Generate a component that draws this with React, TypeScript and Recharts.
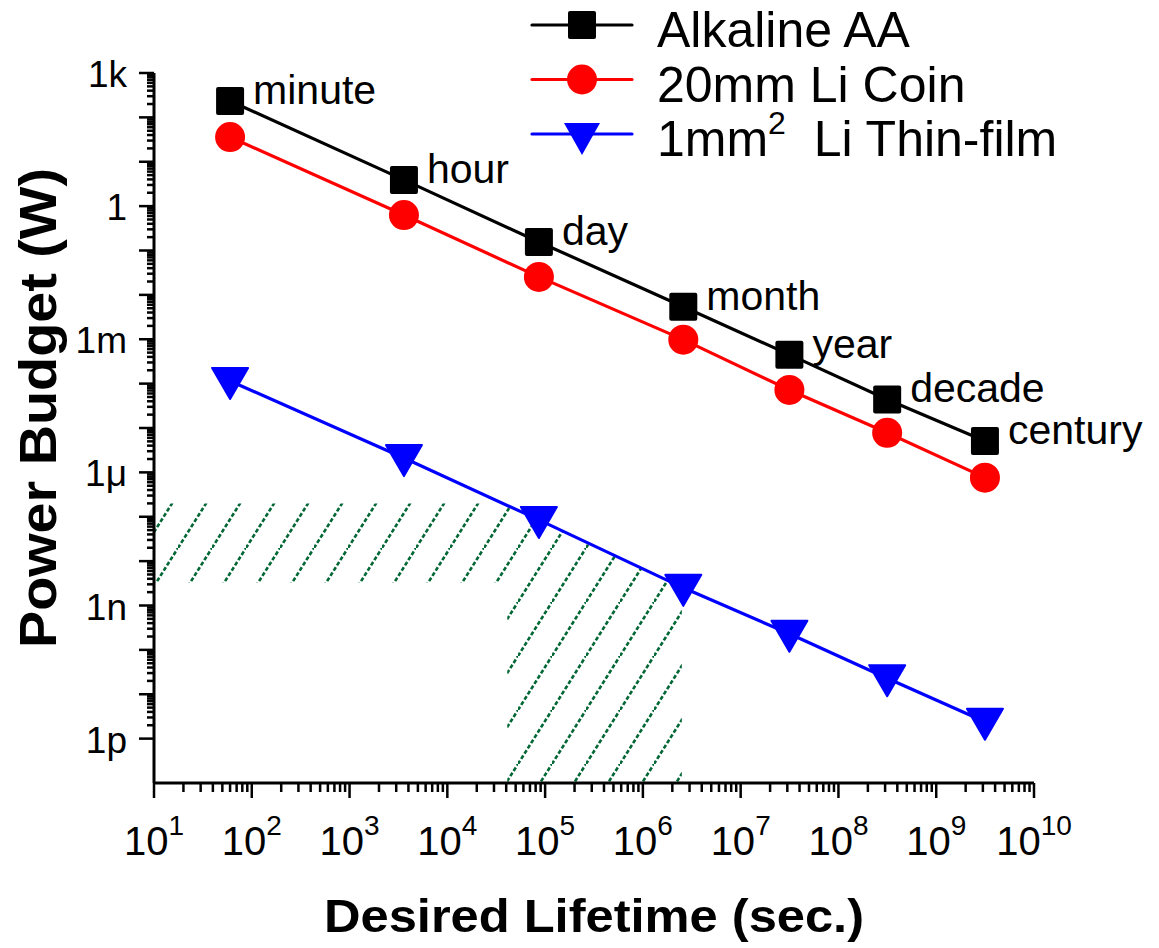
import { ComposedChart, Line, Area, XAxis, YAxis, Legend, LabelList } from 'recharts';

// lifetimes in seconds and their names
const lifetimes = [60, 3600, 86400, 2.59e6, 3.15e7, 3.15e8, 3.15e9];
const lifetimeNames = ['minute', 'hour', 'day', 'month', 'year', 'decade', 'century'];

// power budget (W) for each battery
const alkalineAA = [234, 3.9, 0.156, 5.4e-3, 4.5e-4, 4.4e-5, 5.1e-6];
const liCoin = [36, 0.63, 0.0254, 9.8e-4, 7.2e-5, 7.8e-6, 7.6e-7];
const liThinFilm = [1.15e-4, 2.1e-6, 8.5e-8, 2.5e-9, 2.3e-10, 2.3e-11, 2.4e-12];

// hatched region outline
const hatchX = [10, 4.1e4, 4.1e4, 8.64e4, 2.5e6];
const hatchLow = [3.2e-9, 3.2e-9, 1e-13, 1e-13, 1e-13];
const hatchHigh = [2.0e-7, 2.0e-7, 1.9e-7, 8.5e-8, 2.6e-9];

const yLabels: Record<number, string> = { 3: '1k', 0: '1', [-3]: '1m', [-6]: '1μ', [-9]: '1n', [-12]: '1p' };

const xTicks: number[] = [];
for (let e = 1; e <= 10; e++) {
  xTicks.push(10 ** e);
  if (e < 10) for (let m = 2; m <= 9; m++) xTicks.push(m * 10 ** e);
}
const yTicks: number[] = [];
for (let e = -12; e <= 3; e++) {
  yTicks.push(10 ** e);
  if (e < 3) for (let m = 2; m <= 9; m++) yTicks.push(m * 10 ** e);
}

const data = lifetimes.map((x, i) => ({
  x,
  name: lifetimeNames[i],
  aa: alkalineAA[i],
  coin: liCoin[i],
  thin: liThinFilm[i],
}));
const hatchData = hatchX.map((x, i) => ({ x, range: [hatchLow[i], hatchHigh[i]] }));

const FONT = 'Liberation Sans, Arial, Helvetica, sans-serif';

const isDecade = (v: number) => {
  const e = Math.log10(v);
  return Math.abs(e - Math.round(e)) < 1e-6;
};

const XTick = (props: any) => {
  const { x, y, payload } = props;
  const major = isDecade(payload.value);
  const e = Math.round(Math.log10(payload.value));
  return (
    <g>
      <line x1={x} x2={x} y1={y} y2={y + (major ? 15 : 9)} stroke="#000" strokeWidth={2.5} />
      {major && (
        <text x={x} y={y + 72} textAnchor="middle" fontSize={40} fontFamily={FONT} fill="#000">
          10<tspan fontSize={28} dy={-20}>{e}</tspan>
        </text>
      )}
    </g>
  );
};

const YTick = (props: any) => {
  const { x, y, payload } = props;
  const major = isDecade(payload.value);
  const e = Math.round(Math.log10(payload.value));
  const label = major ? yLabels[e] : undefined;
  return (
    <g>
      <line x1={x - (major ? 15 : 7)} x2={x} y1={y} y2={y} stroke="#000" strokeWidth={2.5} />
      {label && (
        <text x={x - 27} y={y + 14} textAnchor="end" fontSize={37} fontFamily={FONT} fill="#000">
          {label}
        </text>
      )}
    </g>
  );
};

const Square = (props: any) => {
  const { cx, cy } = props;
  if (cx == null || cy == null) return null;
  return <rect x={cx - 14} y={cy - 14} width={28} height={28} rx={2} fill="#000" />;
};
const Circle = (props: any) => {
  const { cx, cy } = props;
  if (cx == null || cy == null) return null;
  return <circle cx={cx} cy={cy} r={15} fill="#ff0000" />;
};
const TriDown = (props: any) => {
  const { cx, cy } = props;
  if (cx == null || cy == null) return null;
  return <path d={`M${cx - 18},${cy - 13} L${cx + 18},${cy - 13} L${cx},${cy + 18} Z`} fill="#0000ff" strokeLinejoin="round" stroke="#0000ff" strokeWidth={2} />;
};

const LifetimeLabel = (props: any) => {
  const x = props.x ?? props.viewBox?.x;
  const y = props.y ?? props.viewBox?.y;
  return (
    <text x={x + 23} y={y + 3} fontSize={41} fontFamily={FONT} fill="#000">
      {props.value}
    </text>
  );
};

const legendRows = [
  { name: 'Alkaline AA', color: '#000', shape: 'square' },
  { name: '20mm Li Coin', color: '#ff0000', shape: 'circle' },
  { name: 'thin', color: '#0000ff', shape: 'tri' },
];

const LegendBox = () => (
  <svg width={620} height={170} style={{ overflow: 'visible', display: 'block' }}>
    {legendRows.map((r, i) => {
      const cy = 17 + i * 54.5;
      return (
        <g key={r.name}>
          <line x1={12} x2={112} y1={cy} y2={cy} stroke={r.color} strokeWidth={3.2} strokeLinecap="round" />
          {r.shape === 'square' && <rect x={48} y={cy - 14} width={28} height={28} rx={2} fill={r.color} />}
          {r.shape === 'circle' && <circle cx={62} cy={cy} r={15} fill={r.color} />}
          {r.shape === 'tri' && <path d={`M44,${cy - 11} L80,${cy - 11} L62,${cy + 21} Z`} fill={r.color} />}
          <text x={137} y={cy + 22} fontSize={50} fontFamily={FONT} fill="#000">
            {r.shape === 'tri' ? (
              <>
                1mm<tspan fontSize={32} dy={-22}>2</tspan>
                <tspan dy={22}>{'\u00a0 Li Thin-film'}</tspan>
              </>
            ) : (
              r.name
            )}
          </text>
        </g>
      );
    })}
  </svg>
);

export default function App() {
  return (
    <ComposedChart width={1150} height={940} data={data} margin={{ top: 65, right: 124, left: 46, bottom: 85 }}>
      <defs>
        <pattern id="hatch" patternUnits="userSpaceOnUse" width={34} height={54}>
          <line x1={-3.4} y1={59.4} x2={37.4} y2={-5.4} stroke="#006633" strokeWidth={2.6} strokeDasharray="4 2.2" />
        </pattern>
      </defs>
      <XAxis
        dataKey="x"
        type="number"
        scale="log"
        domain={[10, 1e10]}
        allowDataOverflow
        ticks={xTicks}
        interval={0}
        tick={XTick}
        tickLine={false}
        tickSize={0}
        tickMargin={0}
        height={80}
        axisLine={{ stroke: '#000', strokeWidth: 3 }}
        label={{
          content: (p: any) => {
            const vb = p.viewBox;
            return (
              <text x={vb.x + vb.width / 2} y={vb.y + 149} textAnchor="middle" fontSize={46} fontWeight="bold" fontFamily={FONT} textLength={540} lengthAdjust="spacingAndGlyphs">
                Desired Lifetime (sec.)
              </text>
            );
          },
        }}
      />
      <YAxis
        type="number"
        scale="log"
        domain={[1e-13, 1e3]}
        allowDataOverflow
        ticks={yTicks}
        interval={0}
        tick={YTick}
        tickLine={false}
        tickSize={0}
        tickMargin={0}
        width={100}
        axisLine={{ stroke: '#000', strokeWidth: 3 }}
        label={{
          content: () => (
            <text x={48} y={400} transform="rotate(-90, 48, 400)" textAnchor="middle" fontSize={52} fontWeight="bold" fontFamily={FONT} textLength={480} lengthAdjust="spacingAndGlyphs">
              Power Budget (W)
            </text>
          ),
        }}
      />
      <Legend
        layout="vertical"
        align="center"
        verticalAlign="middle"
        content={LegendBox}
        wrapperStyle={{ top: 0, left: 512, width: 620, height: 170 }}
      />
      <Area data={hatchData} dataKey="range" type="linear" stroke="none" fill="url(#hatch)" fillOpacity={1} isAnimationActive={false} legendType="none" />
      <Line dataKey="thin" stroke="#0000ff" strokeWidth={3.2} dot={TriDown} activeDot={false} isAnimationActive={false} />
      <Line dataKey="coin" stroke="#ff0000" strokeWidth={3.2} dot={Circle} activeDot={false} isAnimationActive={false} />
      <Line dataKey="aa" stroke="#000" strokeWidth={3.2} dot={Square} activeDot={false} isAnimationActive={false}>
        <LabelList dataKey="name" content={LifetimeLabel} />
      </Line>
    </ComposedChart>
  );
}
